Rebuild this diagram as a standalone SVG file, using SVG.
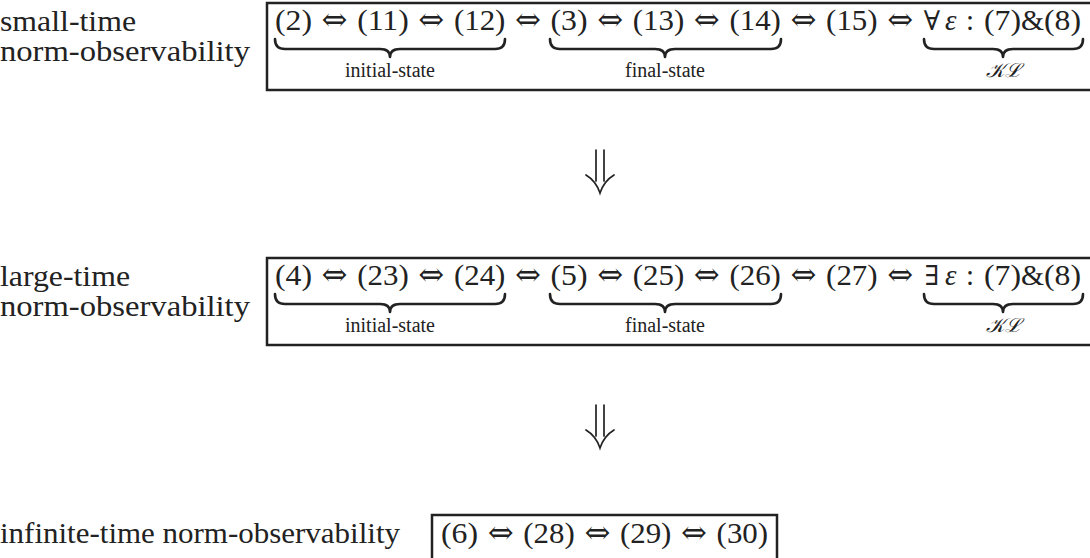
<svg xmlns="http://www.w3.org/2000/svg" width="1090" height="558" viewBox="0 0 1090 558">
<style>
text{fill:#222;font-family:"Liberation Serif",serif;font-size:29px}
.op{font-family:"DejaVu Serif",serif;font-size:31px;text-anchor:middle}
.q{font-family:"DejaVu Serif",serif;font-size:27px;text-anchor:middle}
.it{font-style:italic}
.sub{font-size:20px;text-anchor:middle}
.cal{font-family:"DejaVu Serif",serif;font-style:italic;font-size:20px;text-anchor:middle}
.box{fill:none;stroke:#222;stroke-width:2.5}
.brace{fill:none;stroke:#222;stroke-width:2.6;stroke-linecap:round;stroke-linejoin:round}
.arr{fill:none;stroke:#222;stroke-width:1.7;stroke-linecap:round}
</style>

<g id="small-time">
<text x="0" y="31" textLength="136" lengthAdjust="spacingAndGlyphs">small-time</text>
<text x="0" y="61" textLength="250" lengthAdjust="spacingAndGlyphs">norm-observability</text>
<rect class="box" x="267" y="3" width="830" height="87"/>
<text x="275" y="30" textLength="37" lengthAdjust="spacingAndGlyphs">(2)</text>
<text class="op" x="334.6" y="30">⇔</text>
<text x="357.2" y="30" textLength="51.5" lengthAdjust="spacingAndGlyphs">(11)</text>
<text class="op" x="431.3" y="30">⇔</text>
<text x="453.9" y="30" textLength="51.5" lengthAdjust="spacingAndGlyphs">(12)</text>
<text class="op" x="528" y="30">⇔</text>
<text x="550.5" y="30" textLength="37" lengthAdjust="spacingAndGlyphs">(3)</text>
<text class="op" x="610.2" y="30">⇔</text>
<text x="632.7" y="30" textLength="51.5" lengthAdjust="spacingAndGlyphs">(13)</text>
<text class="op" x="706.8" y="30">⇔</text>
<text x="729.4" y="30" textLength="51.5" lengthAdjust="spacingAndGlyphs">(14)</text>
<text class="op" x="803.5" y="30">⇔</text>
<text x="826.1" y="30" textLength="51.5" lengthAdjust="spacingAndGlyphs">(15)</text>
<text class="op" x="900.2" y="30">⇔</text>
<text class="q" x="932" y="30">∀</text>
<text class="it" x="945" y="30">ε</text>
<text x="966" y="30">:</text>
<text x="984" y="30" textLength="37" lengthAdjust="spacingAndGlyphs">(7)</text>
<text x="1021" y="30" textLength="23" lengthAdjust="spacingAndGlyphs">&amp;</text>
<text x="1044" y="30" textLength="37" lengthAdjust="spacingAndGlyphs">(8)</text>
<path class="brace" d="M275,39 Q275,49 285,49 L380,49 Q390,49 390,57 Q390,49 400,49 L495,49 Q505,49 505,39"/>
<path class="brace" d="M550,39 Q550,49 560,49 L655,49 Q665,49 665,57 Q665,49 675,49 L771,49 Q781,49 781,39"/>
<path class="brace" d="M924,39 Q924,49 934,49 L993,49 Q1003,49 1003,57 Q1003,49 1013,49 L1073,49 Q1083,49 1083,39"/>
<text class="sub" x="390" y="77">initial-state</text>
<text class="sub" x="665" y="77">final-state</text>
<text class="cal" x="1003" y="77">𝒦ℒ</text>
</g>

<g id="large-time">
<text x="0" y="286" textLength="130" lengthAdjust="spacingAndGlyphs">large-time</text>
<text x="0" y="316" textLength="250" lengthAdjust="spacingAndGlyphs">norm-observability</text>
<rect class="box" x="267" y="258" width="830" height="87"/>
<text x="275" y="285" textLength="37" lengthAdjust="spacingAndGlyphs">(4)</text>
<text class="op" x="334.6" y="285">⇔</text>
<text x="357.2" y="285" textLength="51.5" lengthAdjust="spacingAndGlyphs">(23)</text>
<text class="op" x="431.3" y="285">⇔</text>
<text x="453.9" y="285" textLength="51.5" lengthAdjust="spacingAndGlyphs">(24)</text>
<text class="op" x="528" y="285">⇔</text>
<text x="550.5" y="285" textLength="37" lengthAdjust="spacingAndGlyphs">(5)</text>
<text class="op" x="610.2" y="285">⇔</text>
<text x="632.7" y="285" textLength="51.5" lengthAdjust="spacingAndGlyphs">(25)</text>
<text class="op" x="706.8" y="285">⇔</text>
<text x="729.4" y="285" textLength="51.5" lengthAdjust="spacingAndGlyphs">(26)</text>
<text class="op" x="803.5" y="285">⇔</text>
<text x="826.1" y="285" textLength="51.5" lengthAdjust="spacingAndGlyphs">(27)</text>
<text class="op" x="900.2" y="285">⇔</text>
<text class="q" x="932" y="285">∃</text>
<text class="it" x="945" y="285">ε</text>
<text x="966" y="285">:</text>
<text x="984" y="285" textLength="37" lengthAdjust="spacingAndGlyphs">(7)</text>
<text x="1021" y="285" textLength="23" lengthAdjust="spacingAndGlyphs">&amp;</text>
<text x="1044" y="285" textLength="37" lengthAdjust="spacingAndGlyphs">(8)</text>
<path class="brace" d="M275,294 Q275,304 285,304 L380,304 Q390,304 390,312 Q390,304 400,304 L495,304 Q505,304 505,294"/>
<path class="brace" d="M550,294 Q550,304 560,304 L655,304 Q665,304 665,312 Q665,304 675,304 L771,304 Q781,304 781,294"/>
<path class="brace" d="M924,294 Q924,304 934,304 L993,304 Q1003,304 1003,312 Q1003,304 1013,304 L1073,304 Q1083,304 1083,294"/>
<text class="sub" x="390" y="332">initial-state</text>
<text class="sub" x="665" y="332">final-state</text>
<text class="cal" x="1003" y="332">𝒦ℒ</text>
</g>

<g id="infinite-time">
<text x="0" y="543" textLength="400" lengthAdjust="spacingAndGlyphs">infinite-time norm-observability</text>
<rect class="box" x="432" y="515" width="345" height="60"/>
<text x="441" y="543" textLength="37" lengthAdjust="spacingAndGlyphs">(6)</text>
<text class="op" x="500.7" y="543">⇔</text>
<text x="523.2" y="543" textLength="51.5" lengthAdjust="spacingAndGlyphs">(28)</text>
<text class="op" x="597.4" y="543">⇔</text>
<text x="619.9" y="543" textLength="51.5" lengthAdjust="spacingAndGlyphs">(29)</text>
<text class="op" x="694.1" y="543">⇔</text>
<text x="716.6" y="543" textLength="51.5" lengthAdjust="spacingAndGlyphs">(30)</text>
</g>

<g id="connectors">
<path class="arr" d="M596,150 V181 M604,150 V181 M586,175 Q596,181 600,193 Q604,181 614,175"/>
<path class="arr" d="M596,405 V436 M604,405 V436 M586,430 Q596,436 600,448 Q604,436 614,430"/>
</g>
</svg>
